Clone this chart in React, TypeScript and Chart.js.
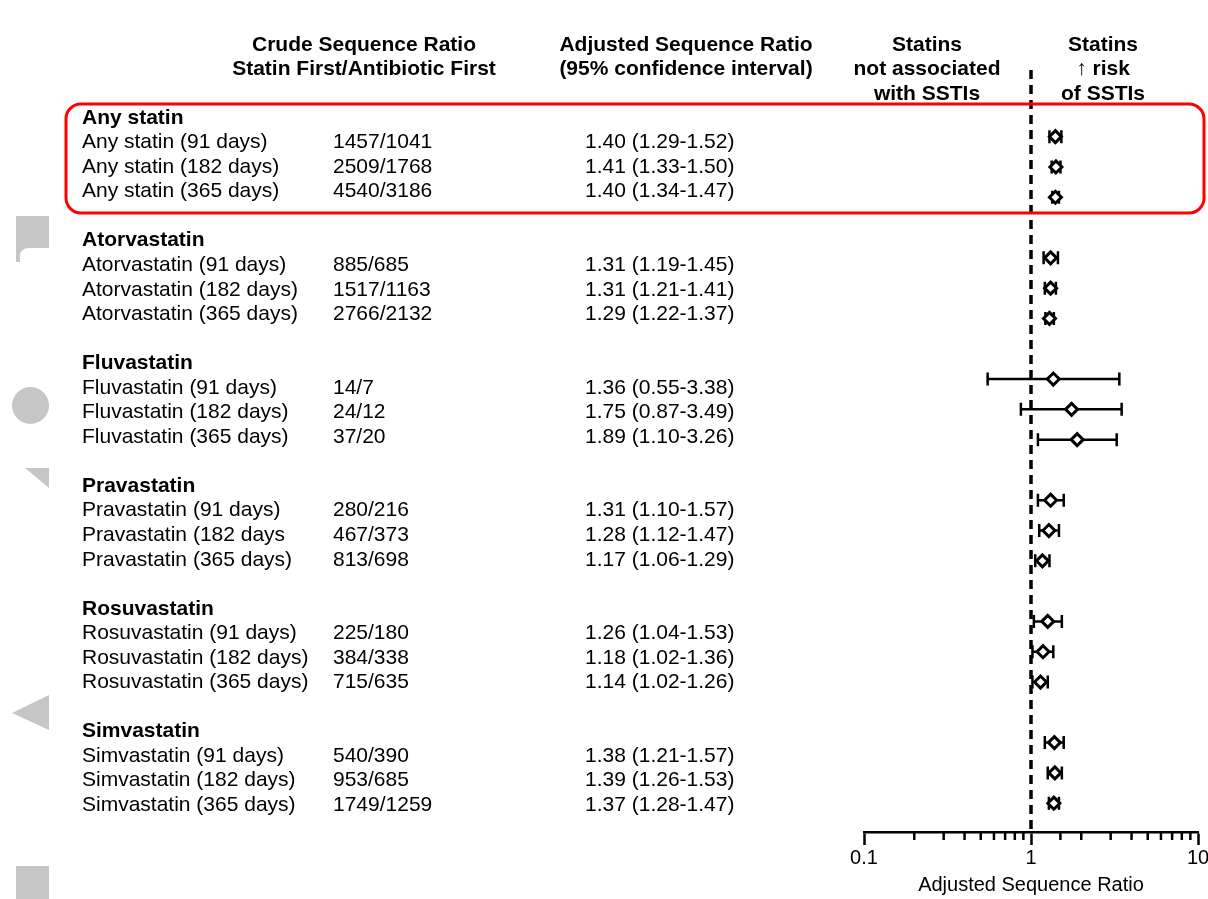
import React, { useEffect, useRef } from 'react';
import { Chart, registerables } from 'chart.js';

Chart.register(...registerables);

// ---------- data ----------
const groupNames = ['Any statin', 'Atorvastatin', 'Fluvastatin', 'Pravastatin', 'Rosuvastatin', 'Simvastatin'];
const rowLabels = [
  'Any statin (91 days)', 'Any statin (182 days)', 'Any statin (365 days)',
  'Atorvastatin (91 days)', 'Atorvastatin (182 days)', 'Atorvastatin (365 days)',
  'Fluvastatin (91 days)', 'Fluvastatin (182 days)', 'Fluvastatin (365 days)',
  'Pravastatin (91 days)', 'Pravastatin (182 days', 'Pravastatin (365 days)',
  'Rosuvastatin (91 days)', 'Rosuvastatin (182 days)', 'Rosuvastatin (365 days)',
  'Simvastatin (91 days)', 'Simvastatin (182 days)', 'Simvastatin (365 days)',
];
const crudeRatios = [
  '1457/1041', '2509/1768', '4540/3186',
  '885/685', '1517/1163', '2766/2132',
  '14/7', '24/12', '37/20',
  '280/216', '467/373', '813/698',
  '225/180', '384/338', '715/635',
  '540/390', '953/685', '1749/1259',
];
const estimates = [1.40, 1.41, 1.40, 1.31, 1.31, 1.29, 1.36, 1.75, 1.89, 1.31, 1.28, 1.17, 1.26, 1.18, 1.14, 1.38, 1.39, 1.37];
const lowerCI = [1.29, 1.33, 1.34, 1.19, 1.21, 1.22, 0.55, 0.87, 1.10, 1.10, 1.12, 1.06, 1.04, 1.02, 1.02, 1.21, 1.26, 1.28];
const upperCI = [1.52, 1.50, 1.47, 1.45, 1.41, 1.37, 3.38, 3.49, 3.26, 1.57, 1.47, 1.29, 1.53, 1.36, 1.26, 1.57, 1.53, 1.47];
const headerCrude = ['Crude Sequence Ratio', 'Statin First/Antibiotic First'];
const headerAdjusted = ['Adjusted Sequence Ratio', '(95% confidence interval)'];
const headerNull = ['Statins', 'not associated', 'with SSTIs'];
const headerRisk = ['Statins', '\u2191 risk', 'of SSTIs'];
const majorTickValues = [0.1, 1, 10];
const axisTitle = 'Adjusted Sequence Ratio';
const referenceValue = 1;

// ---------- layout / style ----------
const W = 1208;
const H = 899;
const FONT = '"Liberation Sans", Arial, sans-serif';
const ROWS_PER_GROUP = 3;
const TEXT_TOP = 118;
const TEXT_STEP = 24.54;
const COL_LABEL = 82;
const COL_CRUDE = 333;
const COL_ADJ = 585;

const isMajor = (v: number) => majorTickValues.some((m) => Math.abs(Math.log10(v) - Math.log10(m)) < 1e-6);
const fmt = (v: number) => v.toFixed(2);

const forestPlugin = {
  id: 'forestDecor',
  beforeDatasetsDraw(chart: any) {
    const { ctx, chartArea, scales } = chart;
    const xs = scales.x;
    const ys = scales.y;
    ctx.save();
    // null reference line
    const x1 = xs.getPixelForValue(referenceValue);
    ctx.strokeStyle = '#000';
    ctx.lineWidth = 3.5;
    ctx.setLineDash([9, 6]);
    ctx.beginPath();
    ctx.moveTo(x1, chartArea.top);
    ctx.lineTo(x1, chartArea.bottom);
    ctx.stroke();
    ctx.setLineDash([]);
    // error bars
    const pts = chart.data.datasets[0].data;
    ctx.lineWidth = 2.5;
    pts.forEach((p: any, i: number) => {
      const y = ys.getPixelForValue(p.y);
      const a = xs.getPixelForValue(lowerCI[i]);
      const b = xs.getPixelForValue(upperCI[i]);
      ctx.beginPath();
      ctx.moveTo(a, y);
      ctx.lineTo(b, y);
      ctx.moveTo(a, y - 6.5);
      ctx.lineTo(a, y + 6.5);
      ctx.moveTo(b, y - 6.5);
      ctx.lineTo(b, y + 6.5);
      ctx.stroke();
    });
    ctx.restore();
  },
  afterDraw(chart: any) {
    const { ctx, chartArea, scales } = chart;
    const xs = scales.x;
    ctx.save();
    // minor ticks
    ctx.strokeStyle = '#000';
    ctx.lineWidth = 2.5;
    xs.ticks.forEach((t: any) => {
      if (isMajor(t.value)) return;
      const x = xs.getPixelForValue(t.value);
      ctx.beginPath();
      ctx.moveTo(x, chartArea.bottom);
      ctx.lineTo(x, chartArea.bottom + 8);
      ctx.stroke();
    });

    // headers
    ctx.fillStyle = '#000';
    ctx.textBaseline = 'middle';
    ctx.textAlign = 'center';
    ctx.font = `bold 21px ${FONT}`;
    const hdr = (lines: string[], cx: number) =>
      lines.forEach((s, i) => ctx.fillText(s, cx, 45 + i * 24.5));
    hdr(headerCrude, 364);
    hdr(headerAdjusted, 686);
    hdr(headerNull, 927);
    hdr(headerRisk, 1103);

    // table text
    ctx.textAlign = 'left';
    groupNames.forEach((g, gi) => {
      const baseK = gi * (ROWS_PER_GROUP + 2);
      ctx.font = `bold 21px ${FONT}`;
      ctx.fillText(g, COL_LABEL, TEXT_TOP + baseK * TEXT_STEP);
      ctx.font = `21px ${FONT}`;
      for (let r = 0; r < ROWS_PER_GROUP; r++) {
        const i = gi * ROWS_PER_GROUP + r;
        const y = TEXT_TOP + (baseK + r + 1) * TEXT_STEP;
        ctx.fillText(rowLabels[i], COL_LABEL, y);
        ctx.fillText(crudeRatios[i], COL_CRUDE, y);
        ctx.fillText(`${fmt(estimates[i])} (${fmt(lowerCI[i])}-${fmt(upperCI[i])})`, COL_ADJ, y);
      }
    });

    // highlight box
    ctx.strokeStyle = '#f00';
    ctx.lineWidth = 3;
    ctx.beginPath();
    (ctx as any).roundRect(66, 104, 1138, 109, 15);
    ctx.stroke();

    // gray decorative shapes on the left edge
    ctx.fillStyle = '#c6c6c6';
    ctx.beginPath();
    ctx.moveTo(16, 216);
    ctx.lineTo(49, 216);
    ctx.lineTo(49, 248);
    ctx.lineTo(30, 248);
    ctx.quadraticCurveTo(20, 248, 20, 256);
    ctx.lineTo(20, 262);
    ctx.lineTo(16, 262);
    ctx.closePath();
    ctx.fill();
    ctx.beginPath();
    ctx.ellipse(30.5, 405.5, 18.5, 18.5, 0, 0, Math.PI * 2);
    ctx.fill();
    ctx.beginPath();
    ctx.moveTo(25, 468);
    ctx.lineTo(49, 468);
    ctx.lineTo(49, 488);
    ctx.closePath();
    ctx.fill();
    ctx.beginPath();
    ctx.moveTo(12, 713);
    ctx.lineTo(49, 695);
    ctx.lineTo(49, 730);
    ctx.closePath();
    ctx.fill();
    ctx.fillRect(16, 866, 33, 33);
    ctx.restore();
  },
};

export default function App() {
  const ref = useRef<HTMLCanvasElement | null>(null);
  useEffect(() => {
    if (!ref.current) return;
    const points = estimates.map((e, i) => ({
      x: e,
      y: Math.floor(i / ROWS_PER_GROUP) * (ROWS_PER_GROUP + 1) + (i % ROWS_PER_GROUP),
    }));
    const chart = new Chart(ref.current, {
      type: 'scatter',
      data: {
        datasets: [
          {
            data: points,
            pointStyle: 'rectRot',
            pointRadius: 6,
            borderWidth: 3,
            borderColor: '#000',
            backgroundColor: '#fff',
            showLine: false,
          },
        ],
      },
      options: {
        responsive: false,
        animation: false,
        events: [],
        layout: { padding: { left: 864, right: 10, top: 70, bottom: 0 } },
        plugins: { legend: { display: false }, tooltip: { enabled: false } },
        scales: {
          x: {
            type: 'logarithmic',
            min: 0.1,
            max: 10,
            afterFit: (scale: any) => {
              scale.height = 67;
              scale.paddingLeft = 0;
              scale.paddingRight = 0;
            },
            border: { display: true, color: '#000', width: 2.5 },
            grid: {
              display: true,
              drawOnChartArea: false,
              tickLength: 13,
              tickWidth: 2.5,
              tickColor: (c: any) => (c.tick && isMajor(c.tick.value) ? '#000' : 'rgba(0,0,0,0)'),
            },
            ticks: {
              autoSkip: false,
              maxRotation: 0,
              padding: 1,
              color: '#000',
              font: { family: FONT, size: 20 },
              callback: (v: any) => (isMajor(Number(v)) ? String(Number(v)) : ''),
            },
            title: {
              display: true,
              text: axisTitle,
              color: '#000',
              font: { family: FONT, size: 20 },
              padding: { top: 0, bottom: 2 },
            },
          },
          y: {
            type: 'linear',
            min: -2.2,
            max: 22.95,
            reverse: true,
            display: false,
          },
        },
      },
      plugins: [forestPlugin],
    });
    return () => chart.destroy();
  }, []);
  return (
    <div style={{ position: 'absolute', left: 0, top: 0, width: W, height: H, background: '#fff' }}>
      <canvas ref={ref} width={W} height={H} style={{ display: 'block' }} />
    </div>
  );
}
